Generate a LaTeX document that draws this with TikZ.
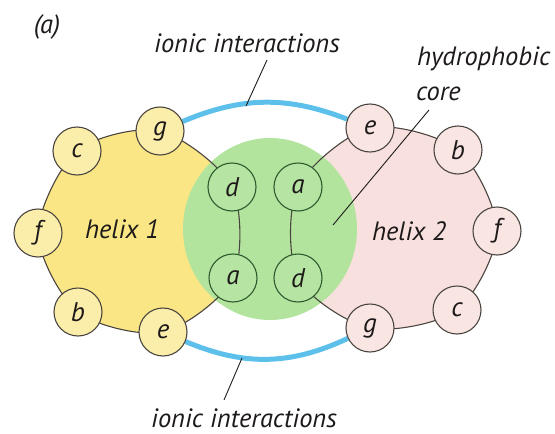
\documentclass[tikz,border=0pt]{standalone}
\usepackage{fontspec}
\setmainfont{PT Sans}
\definecolor{ink}{HTML}{1E1A1A}
\definecolor{outl}{HTML}{4A4540}
\definecolor{grnd}{HTML}{2E5A2E}
\definecolor{yel}{HTML}{FAE684}
\definecolor{yelres}{HTML}{FBEEAA}
\definecolor{pnk}{HTML}{F8E0DE}
\definecolor{pnkres}{HTML}{F9E6E3}
\definecolor{grn}{HTML}{B2E49E}
\definecolor{grnres}{HTML}{B6E5A3}
\definecolor{ionblue}{HTML}{5CC0EA}
\pgfdeclarelayer{bg}
\pgfsetlayers{bg,main}
\tikzset{
  res/.style={circle, minimum size=48pt, inner sep=0pt, line width=1.1pt,
    font=\fontsize{27}{28}\selectfont\itshape, text=ink},
  resA/.style={res, draw=outl, fill=yelres},
  resB/.style={res, draw=outl, fill=pnkres},
  resCore/.style={res, draw=grnd, fill=grnres},
  lbl/.style={font=\fontsize{26.5}{28}\selectfont\itshape, text=ink, inner sep=0pt},
  ionic/.style={line width=5pt, draw=ionblue},
  ptr/.style={line width=0.9pt, draw=ink},
  rim/.style={line width=1.1pt, draw=outl}
}
\begin{document}
\begin{tikzpicture}[x=1pt,y=-1pt]
\useasboundingbox (0,0) rectangle (555,434);

% helix 1 residues
\node[resA] (h1c) at (77,151) {c};
\node[resA] (h1g) at (160,131) {g};
\node[resA] (h1f) at (38,233) {f};
\node[resA] (h1b) at (78,312) {b};
\node[resA] (h1e) at (163,332) {e};
\node[resCore] (h1d) at (232,187) {d};
\node[resCore] (h1a) at (233,278) {a};

% helix 2 residues
\node[resB] (h2e) at (370,128) {e};
\node[resB] (h2b) at (458,150) {b};
\node[resB] (h2f) at (497,231) {f};
\node[resB] (h2c) at (457,310) {c};
\node[resB] (h2g) at (370,328) {g};
\node[resCore] (h2a) at (298,187) {a};
\node[resCore] (h2d) at (298,278) {d};

\coordinate (core) at (270,229);

\begin{pgfonlayer}{bg}
  % coloured regions
  \fill[yel] plot[smooth cycle] coordinates {(h1c.center) (h1g.center) (h1d.center) (h1a.center) (h1e.center) (h1b.center) (h1f.center)};
  \fill[pnk] plot[smooth cycle] coordinates {(h2e.center) (h2b.center) (h2f.center) (h2c.center) (h2g.center) (h2d.center) (h2a.center)};
  \fill[grn] (core) ellipse [x radius=87pt, y radius=91pt];
  % helix backbones
  \draw[rim] plot[smooth cycle] coordinates {(h1c.center) (h1g.center) (h1d.center) (h1a.center) (h1e.center) (h1b.center) (h1f.center)};
  \draw[rim] plot[smooth cycle] coordinates {(h2e.center) (h2b.center) (h2f.center) (h2c.center) (h2g.center) (h2d.center) (h2a.center)};
  % salt bridges between e and g
  \draw[ionic] (h1g) to[bend left=22] (h2e);
  \draw[ionic] (h1e) to[bend right=24] (h2g);
\end{pgfonlayer}

% labels
\node[lbl, anchor=base] (lab) at (47,33) {(a)};
\node[lbl, anchor=base] (ionTop) at (247,52) {ionic interactions};
\node[lbl, anchor=base] (ionBot) at (244,427) {ionic interactions};
\node[lbl, anchor=base west] (hyd) at (417,65) {hydrophobic};
\node[lbl, anchor=base west] (cor) at (416,100) {core};
\node[lbl, anchor=base west] (hx1) at (85,238) {helix 1};
\node[lbl, anchor=base west] (hx2) at (372,240) {helix 2};

% pointer lines
\coordinate (pt1) at (267,60);
\coordinate (pt2) at (246,106);
\coordinate (pc1) at (429,110);
\coordinate (pc2) at (333,225);
\coordinate (pb1) at (242,358);
\coordinate (pb2) at (224,400);
\draw[ptr] (pt1) -- (pt2);
\draw[ptr] (pc1) -- (pc2);
\draw[ptr] (pb1) -- (pb2);
\end{tikzpicture}
\end{document}
